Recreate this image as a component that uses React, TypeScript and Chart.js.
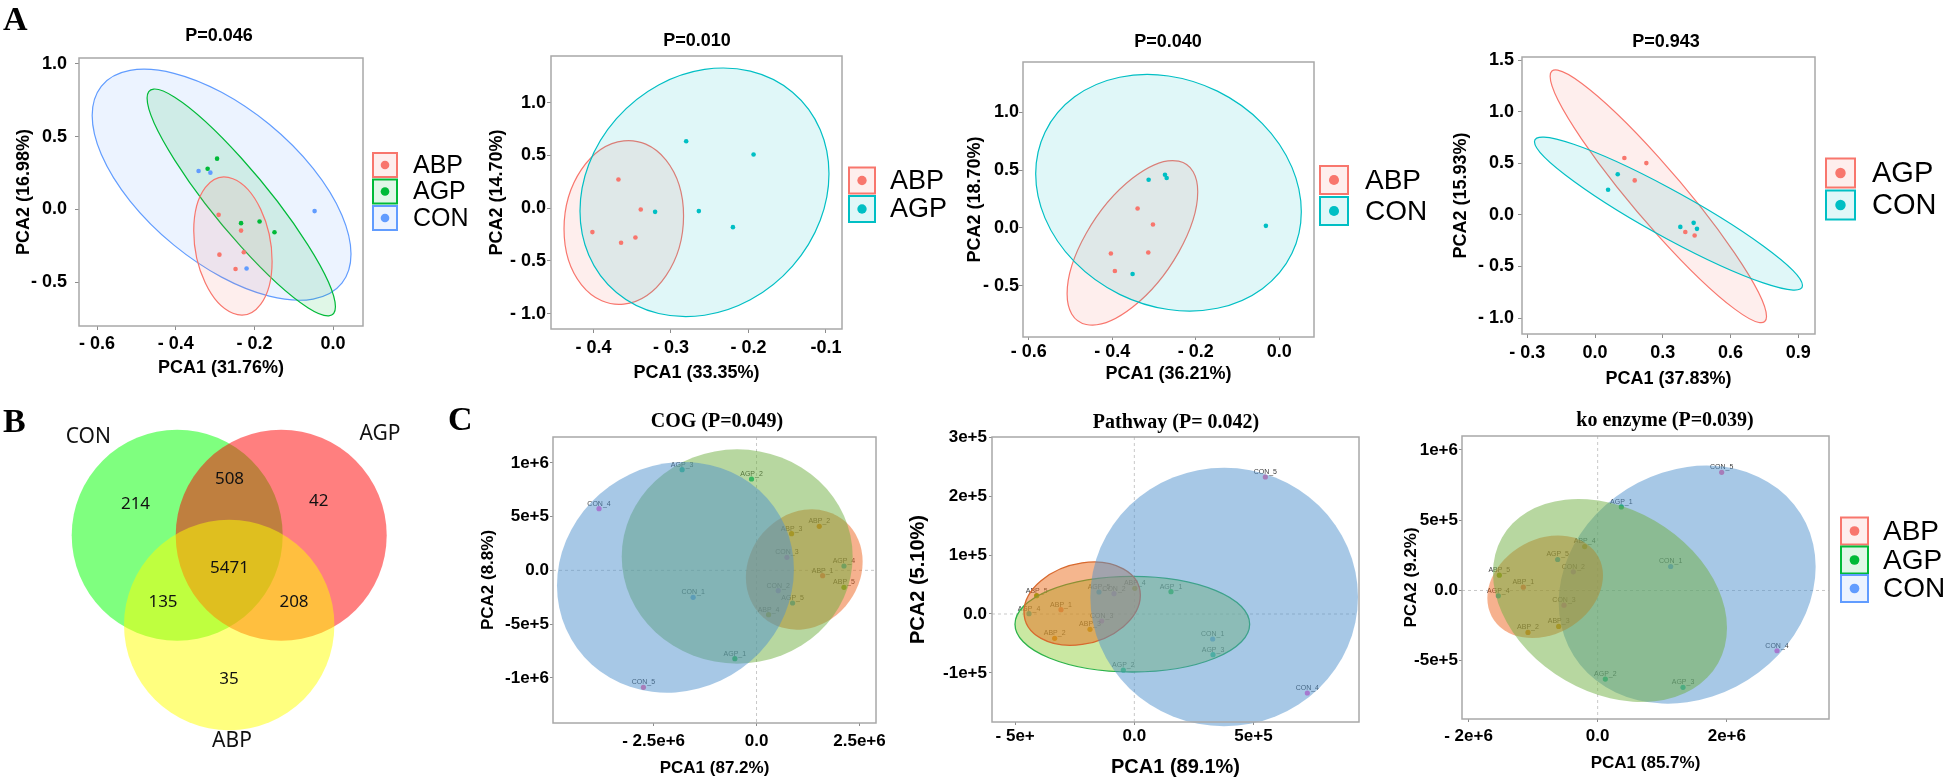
import React, { useEffect, useRef } from "react";
import { Chart, registerables } from "chart.js";

Chart.register(...registerables);

const SANS = '"Liberation Sans", Arial, Helvetica, sans-serif';
const SERIF = '"Liberation Serif", "Times New Roman", serif';
const VENN_FONT = '"Noto Sans", "Open Sans", sans-serif';

const RED = "#F8766D";
const GREEN = "#00BA38";
const BLUE = "#619CFF";
const CYAN = "#00BFC4";

// ---------------- Panel A data (PCA1, PCA2) ----------------
const A1_ABP = [[-0.291, -0.037], [-0.234, -0.145], [-0.289, -0.31], [-0.227, -0.294], [-0.248, -0.409]];
const A1_AGP = [[-0.295, 0.349], [-0.319, 0.28], [-0.234, -0.094], [-0.187, -0.083], [-0.149, -0.156]];
const A1_CON = [[-0.342, 0.264], [-0.312, 0.253], [-0.047, -0.011], [-0.22, -0.405]];
// ellipse = [centre x, centre y, half width, half height, correlation]
const A1_ELL_ABP = [-0.2547, -0.2506, 0.0996, 0.4736, -0.22];
const A1_ELL_AGP = [-0.2335, 0.048, 0.2394, 0.779, -0.92];
const A1_ELL_CON = [-0.2835, 0.17, 0.329, 0.793, -0.6];

const A2_ABP = [[-0.3677, 0.271], [-0.3389, -0.013], [-0.4013, -0.227], [-0.3643, -0.328], [-0.3458, -0.278]];
const A2_AGP = [[-0.2803, 0.634], [-0.1934, 0.508], [-0.3204, -0.035], [-0.264, -0.028], [-0.22, -0.18]];
const A2_ELL_ABP = [-0.3608, -0.1356, 0.0771, 0.776, 0.08];
const A2_ELL_AGP = [-0.2567, 0.1498, 0.1606, 1.178, 0.15];

const A3_ABP = [[-0.3392, 0.168], [-0.3024, 0.029], [-0.4032, -0.223], [-0.3136, -0.214], [-0.3936, -0.374]];
const A3_CON = [[-0.3128, 0.417], [-0.2736, 0.46], [-0.2696, 0.432], [-0.3512, -0.4], [-0.032, 0.017]];
const A3_ELL_ABP = [-0.3516, -0.13, 0.1564, 0.7124, 0.62];
const A3_ELL_CON = [-0.2652, 0.304, 0.318, 1.025, -0.16];

const A4_AGP = [[0.1297, 0.552], [0.227, 0.503], [0.1754, 0.335], [0.3995, -0.165], [0.4408, -0.2]];
const A4_CON = [[0.1002, 0.394], [0.0575, 0.245], [0.3774, -0.116], [0.4364, -0.077], [0.451, -0.135]];
const A4_ELL_AGP = [0.28, 0.1806, 0.479, 1.226, -0.95];
const A4_ELL_CON = [0.325, 0.0129, 0.5934, 0.742, -0.94];

// ---------------- Panel B (Venn) ----------------
const VENN_SETS = ["CON", "AGP", "ABP"];
const VENN_CIRCLES = [[13.72, 23.47, 10.55], [24.12, 23.47, 10.55], [18.92, 14.5, 10.52]];
const VENN_SET_LABEL_POS = [[4.83, 33.25], [34.0, 33.6], [19.2, 2.93]];
const VENN_COUNTS = [214, 508, 42, 5471, 135, 208, 35];
const VENN_COUNT_POS = [[9.55, 26.6], [18.95, 29.13], [27.88, 26.88], [18.95, 20.2], [12.3, 16.8], [25.4, 16.75], [18.9, 9.13]];

// ---------------- Panel C data ----------------
const SAMPLES = ["ABP_1", "ABP_2", "ABP_3", "ABP_4", "ABP_5", "AGP_1", "AGP_2", "AGP_3", "AGP_4", "AGP_5", "CON_1", "CON_2", "CON_3", "CON_4", "CON_5"];
const SAMPLE_COLORS = ["#F8766D", "#E58700", "#C99800", "#A3A500", "#6BB100", "#00BA38", "#00BF7D", "#00C0AF", "#00BCD8", "#00B0F6", "#619CFF", "#B983FF", "#E76BF3", "#FD61D1", "#FF67A4"];

const C1_PC1 = [1.6045e6, 1.5235e6, 8.509e5, 2.917e5, 2.1232e6, -5.267e5, -1.216e5, -1.807e6, 2.1232e6, 8.752e5, -1.5397e6, 5.267e5, 7.374e5, -3.825e6, -2.7472e6];
const C1_PC2 = [-4.96e4, 4.093e5, 3.411e5, -4.124e5, -1.581e5, -8.217e5, 8.496e5, 9.364e5, 4.03e4, -3.039e5, -2.512e5, -1.891e5, 1.209e5, 5.736e5, -1.0884e6];
const C1_ELL_ABP = [1.1588e6, 7.75e3, 1.418e6, 5.597e5, 0.13];
const C1_ELL_AGP = [-4.7e5, 1.287e5, 2.804e6, 9.969e5, 0];
const C1_ELL_CON = [-1.969e6, -6.51e4, 2.877e6, 1.0729e6, 0.07];

const C2_PC1 = [-3.077e5, -3.343e5, -1.86e5, 2e3, -4.098e5, 1.538e5, -4.62e4, 3.301e5, -4.42e5, -1.483e5, 3.287e5, -8.53e4, -1.371e5, 7.259e5, 5.497e5];
const C2_PC2 = [7.4e3, -4.14e4, -2.61e4, 4.36e4, 3.12e4, 3.8e4, -9.52e4, -6.91e4, 600, 3.74e4, -4.25e4, 3.46e4, -1.19e4, -1.3428e5, 2.329e5];
const C2_ELL_ABP = [-2.189e5, 1.756e4, 2.441e5, 7.08e4, 0.2];
const C2_ELL_AGP = [-8.39e3, -1.728e4, 4.923e5, 8.13e4, 0];
const C2_ELL_CON = [3.769e5, 2.89e4, 5.615e5, 2.198e5, 0];

const C3_PC1 = [-1.151e6, -1.0787e6, -6.039e5, -2.013e5, -1.5226e6, 3.665e5, 1.187e5, 1.3213e6, -1.538e6, -6.194e5, 1.1303e6, -3.768e5, -5.213e5, 2.7768e6, 1.92e6];
const C3_PC2 = [2.37e4, -2.986e5, -2.559e5, 3.128e5, 1.09e5, 5.948e5, -6.303e5, -6.896e5, -3.79e4, 2.204e5, 1.706e5, 1.327e5, -1.043e5, -4.289e5, 8.412e5];
const C3_ELL_ABP = [-8.129e5, 2.61e4, 8.955e5, 3.649e5, 0.22];
const C3_ELL_AGP = [1.91e5, -7.11e4, 1.8116e6, 7.227e5, -0.27];
const C3_ELL_CON = [1.3858e6, 4.15e4, 1.9897e6, 8.472e5, 0.15];

// ---------------- helpers ----------------
function rgba(hex: string, a: number) {
  const n = parseInt(hex.slice(1), 16);
  return `rgba(${(n >> 16) & 255},${(n >> 8) & 255},${n & 255},${a})`;
}

function drawEllipse(chart: any, el: any) {
  const [cx, cy, hx, hy, rho] = el.e;
  const xs = chart.scales.x;
  const ys = chart.scales.y;
  const px = xs.getPixelForValue(cx);
  const py = ys.getPixelForValue(cy);
  const kx = xs.getPixelForValue(cx + hx) - px;
  const ky = ys.getPixelForValue(cy + hy) - py;
  const s = Math.sqrt(Math.max(1 - rho * rho, 1e-6));
  const ctx = chart.ctx;
  ctx.save();
  ctx.beginPath();
  ctx.save();
  ctx.transform(kx, rho * ky, 0, s * ky, px, py);
  ctx.arc(0, 0, 1, 0, Math.PI * 2);
  ctx.restore();
  if (el.fill) {
    ctx.fillStyle = el.fill;
    ctx.fill();
  }
  if (el.stroke) {
    ctx.strokeStyle = el.stroke;
    ctx.lineWidth = el.lw || 1.2;
    ctx.stroke();
  }
  ctx.restore();
}

function decoPlugin(s: any) {
  return {
    id: "deco",
    beforeDatasetsDraw(chart: any) {
      const ctx = chart.ctx;
      const ca = chart.chartArea;
      if (s.zeroLines) {
        const x0 = chart.scales.x.getPixelForValue(0);
        const y0 = chart.scales.y.getPixelForValue(0);
        ctx.save();
        ctx.strokeStyle = "#c8c8c8";
        ctx.lineWidth = 1;
        ctx.setLineDash([3, 3]);
        ctx.beginPath();
        ctx.moveTo(x0, ca.top);
        ctx.lineTo(x0, ca.bottom);
        ctx.moveTo(ca.left, y0);
        ctx.lineTo(ca.right, y0);
        ctx.stroke();
        ctx.restore();
      }
      if (!s.ellOnTop) s.ellipses.forEach((el: any) => drawEllipse(chart, el));
    },
    afterDatasetsDraw(chart: any) {
      const ctx = chart.ctx;
      if (s.pointLabels) {
        const meta = chart.getDatasetMeta(0);
        ctx.save();
        ctx.font = `7px ${SANS}`;
        ctx.fillStyle = "#3a3a3a";
        ctx.textAlign = "center";
        ctx.textBaseline = "middle";
        meta.data.forEach((pt: any, i: number) => ctx.fillText(s.pointLabels[i], pt.x, pt.y - 5));
        ctx.restore();
      }
      if (s.ellOnTop) s.ellipses.forEach((el: any) => drawEllipse(chart, el));
      if (s.texts) {
        ctx.save();
        ctx.textAlign = "center";
        ctx.textBaseline = "middle";
        ctx.fillStyle = "#111";
        s.texts.forEach((t: any) => {
          ctx.font = t.font;
          ctx.fillText(t.text, chart.scales.x.getPixelForValue(t.x), chart.scales.y.getPixelForValue(t.y));
        });
        ctx.restore();
      }
    },
    afterDraw(chart: any) {
      const ctx = chart.ctx;
      const ca = chart.chartArea;
      const [cl, ct] = s.box;
      if (!s.hideAxes) {
        ctx.save();
        ctx.strokeStyle = "#a8a8a8";
        ctx.lineWidth = 1.5;
        ctx.strokeRect(ca.left, ca.top, ca.right - ca.left, ca.bottom - ca.top);
        ctx.restore();
      }
      if (s.title) {
        ctx.save();
        ctx.font = s.titleFont;
        ctx.fillStyle = "#000";
        ctx.textAlign = "center";
        ctx.textBaseline = "middle";
        ctx.fillText(s.title, s.titleX - cl, s.titleY - ct);
        ctx.restore();
      }
      if (s.legend) {
        const lg = s.legend;
        ctx.save();
        lg.items.forEach((it: any, i: number) => {
          const y = lg.rows[i] - ct;
          const x = lg.boxLeft - cl;
          ctx.fillStyle = rgba(it.color, 0.12);
          ctx.fillRect(x, y - lg.box / 2, lg.box, lg.box);
          ctx.strokeStyle = it.color;
          ctx.lineWidth = 2;
          ctx.strokeRect(x, y - lg.box / 2, lg.box, lg.box);
          ctx.fillStyle = it.color;
          ctx.beginPath();
          ctx.arc(x + lg.box / 2, y, lg.box * 0.18, 0, Math.PI * 2);
          ctx.fill();
          ctx.fillStyle = "#000";
          ctx.font = `${lg.font}px ${SANS}`;
          ctx.textAlign = "left";
          ctx.textBaseline = "middle";
          ctx.fillText(it.label, lg.textX - cl, y + 1);
        });
        ctx.restore();
      }
    },
  };
}

function buildConfig(s: any) {
  const [cl, ct, cr, cb] = s.box;
  const [L, T, R, B] = s.plot;
  const padL = L - cl;
  const padB = cb - B;
  const hidden = !!s.hideAxes;
  const lh = (s.axisTitleSize || 18) * 1.2;
  const axisFont = { family: SANS, size: s.axisTitleSize || 18, weight: "bold", lineHeight: 1.2 };
  const tickFont = { family: SANS, size: s.tickSize || 18, weight: "bold" };
  const grid = (len: number) => ({ display: true, drawOnChartArea: false, drawTicks: true, tickLength: len, color: "#8c8c8c", lineWidth: 1 });
  return {
    type: "scatter",
    data: { datasets: s.datasets },
    options: {
      responsive: false,
      animation: false,
      events: [],
      layout: { padding: { left: hidden ? padL : 0, top: T - ct, right: cr - R, bottom: hidden ? padB : 0 } },
      plugins: { legend: { display: false }, title: { display: false }, tooltip: { enabled: false } },
      scales: {
        x: {
          type: "linear",
          display: !hidden,
          min: s.xRange[0],
          max: s.xRange[1],
          afterBuildTicks: (ax: any) => {
            ax.ticks = (s.xTicks || []).map((v: number) => ({ value: v }));
          },
          afterFit: (ax: any) => {
            if (!hidden) ax.height = padB;
          },
          grid: grid(s.xTick ? s.xTick[0] : 4),
          border: { display: false },
          ticks: {
            font: tickFont,
            color: "#000",
            padding: s.xTick ? s.xTick[1] : 3,
            autoSkip: false,
            maxRotation: 0,
            minRotation: 0,
            callback: (_v: any, i: number) => (s.xLabels ? s.xLabels[i] : ""),
          },
          title: {
            display: !hidden,
            text: s.xTitle,
            font: axisFont,
            color: "#000",
            padding: { top: 0, bottom: hidden ? 0 : cb - s.xTitleY - lh / 2 },
          },
        },
        y: {
          type: "linear",
          display: !hidden,
          min: s.yRange[0],
          max: s.yRange[1],
          afterBuildTicks: (ax: any) => {
            ax.ticks = (s.yTicks || []).map((v: number) => ({ value: v }));
          },
          afterFit: (ax: any) => {
            if (!hidden) ax.width = padL;
          },
          grid: grid(s.yTick ? s.yTick[0] : 4),
          border: { display: false },
          ticks: {
            font: tickFont,
            color: "#000",
            padding: s.yTick ? s.yTick[1] : 3,
            autoSkip: false,
            callback: (_v: any, i: number) => (s.yLabels ? s.yLabels[i] : ""),
          },
          title: {
            display: !hidden,
            text: s.yTitle,
            font: axisFont,
            color: "#000",
            padding: { top: hidden ? 0 : s.yTitleX - cl - lh / 2, bottom: 0 },
          },
        },
      },
    },
    plugins: [decoPlugin(s)],
  };
}

function groupSets(series: any[]) {
  return series.map((sr) => ({
    data: sr.pts.map((p: number[]) => ({ x: p[0], y: p[1] })),
    pointRadius: 2.3,
    pointBackgroundColor: sr.color,
    pointBorderWidth: 0,
    showLine: false,
  }));
}

function sampleSet(pc1: number[], pc2: number[]) {
  return [
    {
      data: pc1.map((x, i) => ({ x, y: pc2[i] })),
      pointRadius: 2.6,
      pointBackgroundColor: SAMPLE_COLORS,
      pointBorderWidth: 0,
      showLine: false,
    },
  ];
}

const ell = (e: number[], color: string) => ({ e, fill: rgba(color, 0.12), stroke: color, lw: 1.2 });

const C_ABP_FILL = "rgba(238,100,30,0.5)";
const C_AGP_FILL = "rgba(112,175,65,0.5)";
const C_CON_FILL = "rgba(80,145,205,0.5)";

const A_TITLE_FONT = `bold 18px ${SANS}`;
const C_TITLE_FONT = `bold 20px ${SERIF}`;

const SPECS: any[] = [
  {
    box: [0, 0, 470, 392],
    plot: [79, 58, 363, 326],
    xRange: [-0.646, 0.076],
    yRange: [-0.8, 1.04],
    xTicks: [-0.6, -0.4, -0.2, 0],
    xLabels: ["- 0.6", "- 0.4", "- 0.2", "0.0"],
    yTicks: [1, 0.5, 0, -0.5],
    yLabels: ["1.0", "0.5", "0.0", "- 0.5"],
    xTick: [4, 3],
    yTick: [4, 8],
    title: "P=0.046",
    titleX: 219,
    titleY: 36.5,
    titleFont: A_TITLE_FONT,
    xTitle: "PCA1 (31.76%)",
    xTitleY: 368,
    yTitle: "PCA2 (16.98%)",
    yTitleX: 24.5,
    datasets: groupSets([
      { pts: A1_ABP, color: RED },
      { pts: A1_AGP, color: GREEN },
      { pts: A1_CON, color: BLUE },
    ]),
    ellipses: [ell(A1_ELL_CON, BLUE), ell(A1_ELL_AGP, GREEN), ell(A1_ELL_ABP, RED)],
    legend: {
      items: [
        { label: "ABP", color: RED },
        { label: "AGP", color: GREEN },
        { label: "CON", color: BLUE },
      ],
      boxLeft: 373,
      rows: [165, 191.5, 218],
      box: 24,
      textX: 413,
      font: 25,
    },
  },
  {
    box: [480, 0, 960, 392],
    plot: [551, 56, 842, 329],
    xRange: [-0.4547, -0.0793],
    yRange: [-1.145, 1.4416],
    xTicks: [-0.4, -0.3, -0.2, -0.1],
    xLabels: ["- 0.4", "- 0.3", "- 0.2", "-0.1"],
    yTicks: [1, 0.5, 0, -0.5, -1],
    yLabels: ["1.0", "0.5", "0.0", "- 0.5", "- 1.0"],
    xTick: [4, 4],
    yTick: [4, 1],
    title: "P=0.010",
    titleX: 697,
    titleY: 41.3,
    titleFont: A_TITLE_FONT,
    xTitle: "PCA1 (33.35%)",
    xTitleY: 373,
    yTitle: "PCA2 (14.70%)",
    yTitleX: 497,
    datasets: groupSets([
      { pts: A2_ABP, color: RED },
      { pts: A2_AGP, color: CYAN },
    ]),
    ellipses: [ell(A2_ELL_ABP, RED), ell(A2_ELL_AGP, CYAN)],
    legend: {
      items: [
        { label: "ABP", color: RED },
        { label: "AGP", color: CYAN },
      ],
      boxLeft: 849,
      rows: [180.5, 209],
      box: 26,
      textX: 890,
      font: 27,
    },
  },
  {
    box: [960, 0, 1440, 395],
    plot: [1023, 62, 1314, 337],
    xRange: [-0.6136, 0.0832],
    yRange: [-0.946, 1.437],
    xTicks: [-0.6, -0.4, -0.2, 0],
    xLabels: ["- 0.6", "- 0.4", "- 0.2", "0.0"],
    yTicks: [1, 0.5, 0, -0.5],
    yLabels: ["1.0", "0.5", "0.0", "- 0.5"],
    xTick: [3, 1],
    yTick: [4, 0],
    title: "P=0.040",
    titleX: 1168,
    titleY: 41.7,
    titleFont: A_TITLE_FONT,
    xTitle: "PCA1 (36.21%)",
    xTitleY: 374,
    yTitle: "PCA2 (18.70%)",
    yTitleX: 975.5,
    datasets: groupSets([
      { pts: A3_ABP, color: RED },
      { pts: A3_CON, color: CYAN },
    ]),
    ellipses: [ell(A3_ELL_ABP, RED), ell(A3_ELL_CON, CYAN)],
    legend: {
      items: [
        { label: "ABP", color: RED },
        { label: "CON", color: CYAN },
      ],
      boxLeft: 1320,
      rows: [180, 211],
      box: 28,
      textX: 1365,
      font: 28,
    },
  },
  {
    box: [1440, 0, 1946, 395],
    plot: [1522, 57, 1815, 334],
    xRange: [-0.3236, 0.9737],
    yRange: [-1.155, 1.532],
    xTicks: [-0.3, 0, 0.3, 0.6, 0.9],
    xLabels: ["- 0.3", "0.0", "0.3", "0.6", "0.9"],
    yTicks: [1.5, 1, 0.5, 0, -0.5, -1],
    yLabels: ["1.5", "1.0", "0.5", "0.0", "- 0.5", "- 1.0"],
    xTick: [4, 4],
    yTick: [4, 4],
    title: "P=0.943",
    titleX: 1666,
    titleY: 41.7,
    titleFont: A_TITLE_FONT,
    xTitle: "PCA1 (37.83%)",
    xTitleY: 379,
    yTitle: "PCA2 (15.93%)",
    yTitleX: 1461,
    datasets: groupSets([
      { pts: A4_AGP, color: RED },
      { pts: A4_CON, color: CYAN },
    ]),
    ellipses: [ell(A4_ELL_AGP, RED), ell(A4_ELL_CON, CYAN)],
    legend: {
      items: [
        { label: "AGP", color: RED },
        { label: "CON", color: CYAN },
      ],
      boxLeft: 1826,
      rows: [173, 205],
      box: 29,
      textX: 1872,
      font: 29,
    },
  },
  {
    box: [0, 400, 460, 781],
    plot: [40, 410, 420, 770],
    hideAxes: true,
    xRange: [0, 38],
    yRange: [0, 36],
    datasets: [],
    ellipses: VENN_CIRCLES.map((c, i) => ({
      e: [c[0], c[1], c[2], c[2], 0],
      fill: ["rgba(0,255,0,0.5)", "rgba(255,0,0,0.5)", "rgba(255,255,0,0.5)"][i],
    })),
    texts: [
      ...VENN_SETS.map((t, i) => ({ text: t, x: VENN_SET_LABEL_POS[i][0], y: VENN_SET_LABEL_POS[i][1], font: `21px ${VENN_FONT}` })),
      ...VENN_COUNTS.map((n, i) => ({ text: String(n), x: VENN_COUNT_POS[i][0], y: VENN_COUNT_POS[i][1], font: `17px ${VENN_FONT}` })),
    ],
  },
  {
    box: [470, 395, 900, 781],
    plot: [553, 437, 876, 723],
    xRange: [-4.943e6, 2.901e6],
    yRange: [-1.42e6, 1.2403e6],
    xTicks: [-2.5e6, 0, 2.5e6],
    xLabels: ["- 2.5e+6", "0.0", "2.5e+6"],
    yTicks: [1e6, 5e5, 0, -5e5, -1e6],
    yLabels: ["1e+6", "5e+5", "0.0", "-5e+5", "-1e+6"],
    tickSize: 17,
    axisTitleSize: 17,
    xTick: [3, 5],
    yTick: [3, 1],
    title: "COG (P=0.049)",
    titleX: 717,
    titleY: 422,
    titleFont: C_TITLE_FONT,
    xTitle: "PCA1 (87.2%)",
    xTitleY: 768,
    yTitle: "PCA2 (8.8%)",
    yTitleX: 488,
    zeroLines: true,
    pointLabels: SAMPLES,
    ellOnTop: true,
    datasets: sampleSet(C1_PC1, C1_PC2),
    ellipses: [
      { e: C1_ELL_ABP, fill: C_ABP_FILL },
      { e: C1_ELL_AGP, fill: C_AGP_FILL },
      { e: C1_ELL_CON, fill: C_CON_FILL },
    ],
  },
  {
    box: [900, 395, 1380, 781],
    plot: [992, 437, 1359, 722],
    xRange: [-5.972e5, 9.427e5],
    yRange: [-1.8357e5, 3.0085e5],
    xTicks: [-5e5, 0, 5e5],
    xLabels: ["- 5e+", "0.0", "5e+5"],
    yTicks: [3e5, 2e5, 1e5, 0, -1e5],
    yLabels: ["3e+5", "2e+5", "1e+5", "0.0", "-1e+5"],
    tickSize: 17,
    axisTitleSize: 20,
    xTick: [3, 1],
    yTick: [3, 2],
    title: "Pathway (P= 0.042)",
    titleX: 1176,
    titleY: 423,
    titleFont: C_TITLE_FONT,
    xTitle: "PCA1 (89.1%)",
    xTitleY: 767,
    yTitle: "PCA2 (5.10%)",
    yTitleX: 918,
    zeroLines: true,
    pointLabels: SAMPLES,
    ellOnTop: true,
    datasets: sampleSet(C2_PC1, C2_PC2),
    ellipses: [
      { e: C2_ELL_AGP, fill: "rgba(150,210,70,0.5)", stroke: "#2DB34A", lw: 1.3 },
      { e: C2_ELL_ABP, fill: "rgba(235,110,30,0.5)", stroke: "#D8692E", lw: 1.3 },
      { e: C2_ELL_CON, fill: C_CON_FILL },
    ],
  },
  {
    box: [1380, 395, 1946, 781],
    plot: [1462, 436, 1829, 719],
    xRange: [-2.1006e6, 3.582e6],
    yRange: [-9.147e5, 1.0995e6],
    xTicks: [-2e6, 0, 2e6],
    xLabels: ["- 2e+6", "0.0", "2e+6"],
    yTicks: [1e6, 5e5, 0, -5e5],
    yLabels: ["1e+6", "5e+5", "0.0", "-5e+5"],
    tickSize: 17,
    axisTitleSize: 17,
    xTick: [3, 4],
    yTick: [3, 1],
    title: "ko enzyme (P=0.039)",
    titleX: 1665,
    titleY: 421,
    titleFont: C_TITLE_FONT,
    xTitle: "PCA1 (85.7%)",
    xTitleY: 763,
    yTitle: "PCA2 (9.2%)",
    yTitleX: 1411,
    zeroLines: true,
    pointLabels: SAMPLES,
    ellOnTop: true,
    datasets: sampleSet(C3_PC1, C3_PC2),
    ellipses: [
      { e: C3_ELL_CON, fill: C_CON_FILL },
      { e: C3_ELL_ABP, fill: C_ABP_FILL },
      { e: C3_ELL_AGP, fill: C_AGP_FILL },
    ],
    legend: {
      items: [
        { label: "ABP", color: RED },
        { label: "AGP", color: GREEN },
        { label: "CON", color: BLUE },
      ],
      boxLeft: 1841,
      rows: [531, 560, 588.5],
      box: 27,
      textX: 1883,
      font: 28,
    },
  },
];

function Panel({ spec }: { spec: any }) {
  const ref = useRef<HTMLCanvasElement>(null);
  useEffect(() => {
    if (!ref.current) return;
    const chart = new Chart(ref.current, buildConfig(spec) as any);
    return () => chart.destroy();
  }, [spec]);
  const [l, t, r, b] = spec.box;
  return (
    <canvas
      ref={ref}
      width={r - l}
      height={b - t}
      style={{ position: "absolute", left: l, top: t, width: r - l, height: b - t }}
    />
  );
}

const letterStyle = (left: number, top: number): React.CSSProperties => ({
  position: "absolute",
  left,
  top,
  fontFamily: SERIF,
  fontWeight: "bold",
  fontSize: 34,
  lineHeight: "34px",
  color: "#000",
});

export default function App() {
  return (
    <div style={{ position: "absolute", left: 0, top: 0, width: 1946, height: 781, background: "#fff", overflow: "hidden" }}>
      {SPECS.map((s, i) => (
        <Panel key={i} spec={s} />
      ))}
      <div style={letterStyle(3, 2)}>A</div>
      <div style={letterStyle(3, 404)}>B</div>
      <div style={letterStyle(448, 402)}>C</div>
    </div>
  );
}
